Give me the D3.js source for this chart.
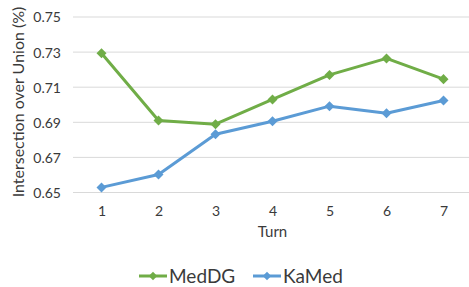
<!DOCTYPE html>
<html>
<head>
<meta charset="utf-8">
<script src="https://cdn.jsdelivr.net/npm/d3@7"></script>
<style>
  body { margin: 0; background: #fff; }
  text { font-family: Lato, "Open Sans", sans-serif; fill: #3a3a3a; }
</style>
</head>
<body>
<div id="chart"></div>
<script>
// data
var turns = [1, 2, 3, 4, 5, 6, 7];
var medDG = [0.7293, 0.6910, 0.6889, 0.7030, 0.7170, 0.7264, 0.7146];
var kaMed = [0.6529, 0.6603, 0.6832, 0.6906, 0.6992, 0.6952, 0.7024];
var yTicks = [0.65, 0.67, 0.69, 0.71, 0.73, 0.75];
var seriesNames = ["MedDG", "KaMed"];
var seriesColors = ["#70AD47", "#5B9BD5"];

var width = 469, height = 287;

var svg = d3.select("#chart").append("svg")
  .attr("width", width)
  .attr("height", height);

var x = d3.scalePoint()
  .domain(turns)
  .range([73, 472])
  .padding(0.5);

var y = d3.scaleLinear()
  .domain([0.65, 0.75])
  .range([192.5, 17]);

// gridlines
svg.append("g").selectAll("line")
  .data(yTicks)
  .enter().append("line")
  .attr("x1", 73)
  .attr("x2", 472)
  .attr("y1", function(d){ return y(d); })
  .attr("y2", function(d){ return y(d); })
  .attr("stroke", "#d9d9d9")
  .attr("stroke-width", 1);

// y axis labels
var yAxis = d3.axisLeft(y).tickValues(yTicks).tickFormat(d3.format(".2f")).tickSize(0).tickPadding(0);
var gy = svg.append("g").attr("transform", "translate(61,0)").call(yAxis);
gy.select(".domain").remove();
gy.selectAll("text").style("font-size", "14px").attr("fill", "#3a3a3a").attr("dy", "0.35em");

// x axis labels
var xAxis = d3.axisBottom(x).tickSize(0).tickPadding(0);
var gx = svg.append("g").attr("transform", "translate(0,206)").call(xAxis);
gx.select(".domain").remove();
gx.selectAll("text").style("font-size", "14px").attr("fill", "#3a3a3a").attr("dy", "0.71em");

// axis titles
svg.append("text")
  .attr("x", x(4))
  .attr("y", 237)
  .attr("text-anchor", "middle")
  .style("font-size", "15px")
  .text("Turn");

svg.append("text")
  .attr("transform", "translate(24,102) rotate(-90)")
  .attr("text-anchor", "middle")
  .style("font-size", "16px")
  .text("Intersection over Union (%)");

var line = d3.line()
  .x(function(d, i){ return x(turns[i]); })
  .y(function(d){ return y(d); });

var diamond = d3.symbol().type(d3.symbolDiamond2).size(64);

[medDG, kaMed].forEach(function(vals, s){
  svg.append("path")
    .datum(vals)
    .attr("d", line)
    .attr("fill", "none")
    .attr("stroke", seriesColors[s])
    .attr("stroke-width", 3)
    .attr("stroke-linejoin", "round");

  svg.append("g").selectAll("path")
    .data(vals)
    .enter().append("path")
    .attr("d", diamond)
    .attr("transform", function(d, i){ return "translate(" + x(turns[i]) + "," + y(d) + ")"; })
    .attr("fill", seriesColors[s]);
});

// legend
var legendX = [139, 253];
seriesNames.forEach(function(name, s){
  var g = svg.append("g").attr("transform", "translate(" + legendX[s] + ",276)");
  g.append("line")
    .attr("x1", 0).attr("x2", 28)
    .attr("stroke", seriesColors[s])
    .attr("stroke-width", 3);
  g.append("path")
    .attr("d", d3.symbol().type(d3.symbolDiamond2).size(45))
    .attr("transform", "translate(14,0)")
    .attr("fill", seriesColors[s]);
  g.append("text")
    .attr("x", 30)
    .attr("y", 0)
    .attr("dy", "0.35em")
    .style("font-size", "19px")
    .text(name);
});
</script>
</body>
</html>
